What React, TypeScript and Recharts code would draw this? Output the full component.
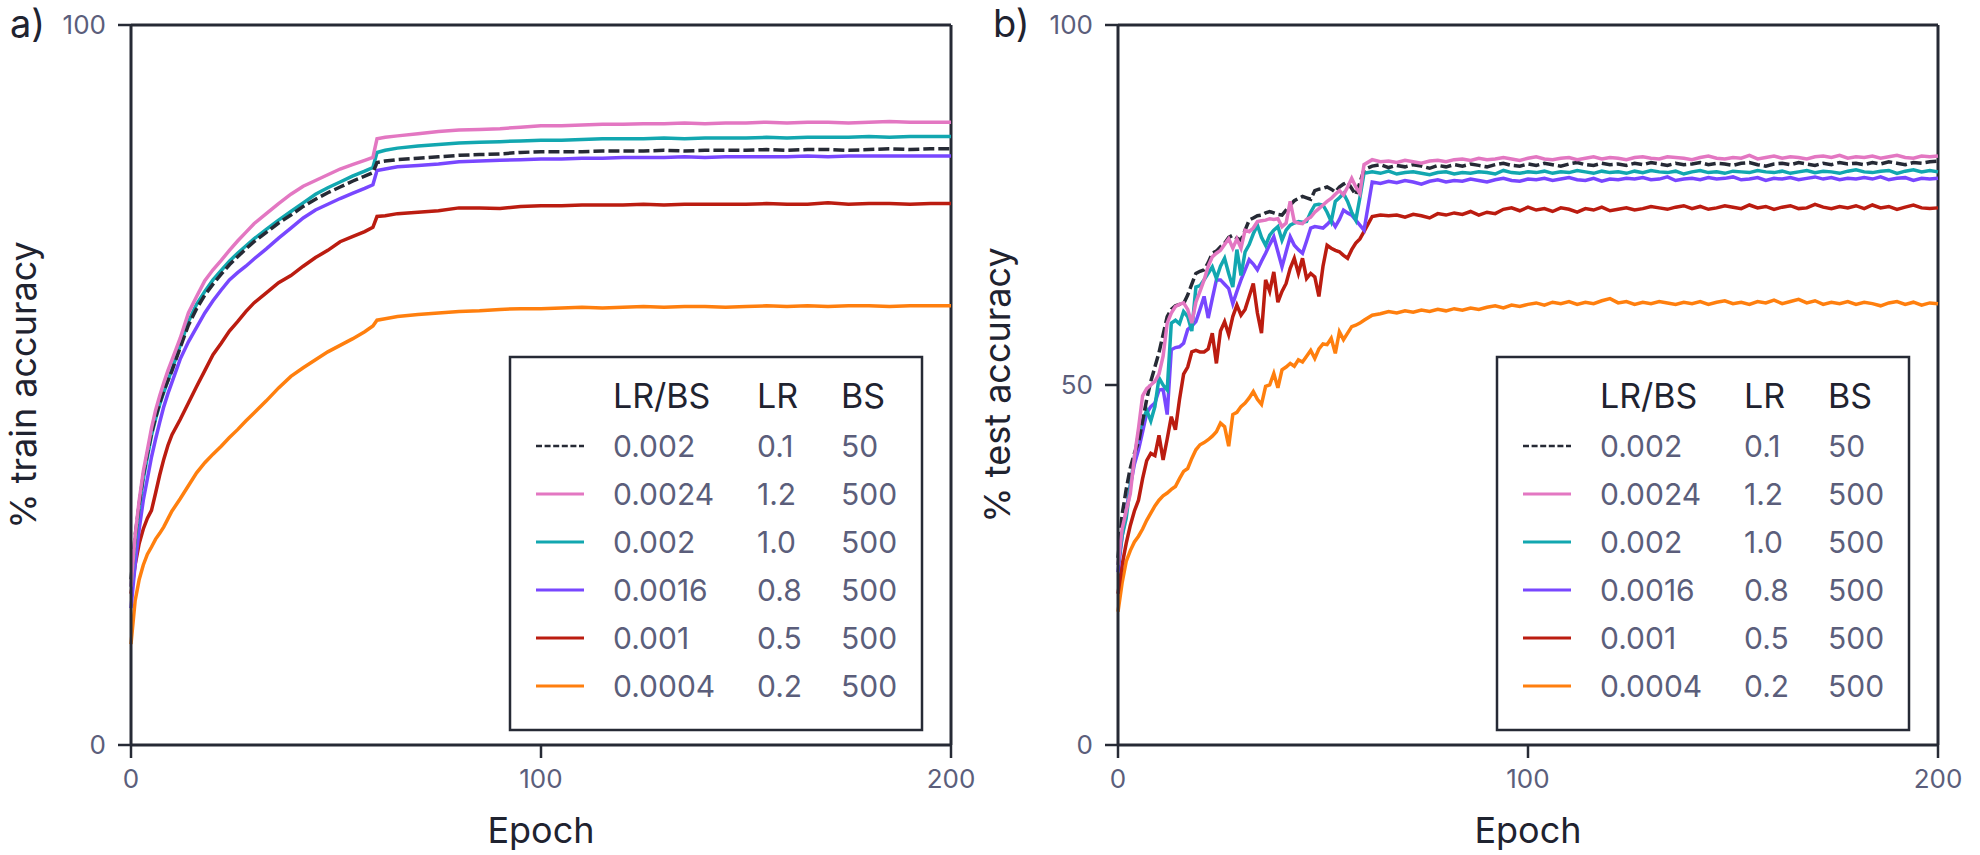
import React from 'react';
import { LineChart, Line, XAxis, YAxis, ReferenceLine } from 'recharts';

const AXIS = '#262a35';
const TICK_COLOR = '#5b5e7b';
const TITLE_COLOR = '#1f2330';
const FONT = 'Inter, "Noto Sans", sans-serif';

// legend table
const lrbsLabels = ['0.002', '0.0024', '0.002', '0.0016', '0.001', '0.0004'];
const lrLabels = ['0.1', '1.2', '1.0', '0.8', '0.5', '0.2'];
const bsLabels = ['50', '500', '500', '500', '500', '500'];
const seriesColors = ['#262a35', '#e377c2', '#12a7b0', '#7847ff', '#bb1c10', '#ff7f0e'];
const seriesDashed = [true, false, false, false, false, false];
const drawOrder = [5, 4, 3, 2, 0, 1];

const xTicks = [0, 100, 200];
const trainYTicks = [0, 100];
const testYTicks = [0, 50, 100];

// ---------- panel a) train accuracy ----------
const trainEpochs = [
  0, 1, 2, 3, 4, 5, 6, 7, 8, 9, 10,
  12, 14, 16, 18, 20, 22, 24, 26, 28, 30,
  33, 36, 39, 42, 45, 48, 51, 54, 57,
  59, 60, 62, 65,
  70, 75, 80, 85, 90, 95, 100, 105, 110, 115, 120, 125, 130, 135, 140, 145, 150, 155, 160, 165, 170, 175, 180, 185, 190, 195, 200,
];
const trainBlack = [
  23, 29, 33.5, 37.5, 40.5, 43.3, 45.5, 47.5, 49.2, 50.6, 52,
  55.2, 58.3, 60.6, 62.5, 64, 65.4, 66.7, 67.8, 68.9, 69.9,
  71.2, 72.5, 73.6, 74.8, 75.8, 76.7, 77.5, 78.3, 79,
  79.5, 80.9, 81.1, 81.3,
  81.5, 81.7, 81.9, 82, 82.1, 82.3, 82.4, 82.4, 82.4, 82.5, 82.5, 82.5, 82.6, 82.5, 82.6, 82.6, 82.6, 82.7, 82.6, 82.7, 82.7, 82.6, 82.7, 82.8, 82.7, 82.8, 82.8,
];
const trainPink = [
  22, 29, 34, 38, 41, 44, 46.5, 48.5, 50.3, 52, 53.5,
  56.5, 60, 62.3, 64.5, 66, 67.3, 68.7, 70, 71.2, 72.4,
  73.8, 75.2, 76.5, 77.6, 78.4, 79.2, 80, 80.6, 81.2,
  81.6, 84.2, 84.4, 84.6,
  84.9, 85.2, 85.4, 85.5, 85.6, 85.8, 86.0, 86.0, 86.1, 86.2, 86.2, 86.3, 86.3, 86.4, 86.3, 86.4, 86.4, 86.5, 86.4, 86.5, 86.5, 86.4, 86.5, 86.6, 86.5, 86.5, 86.5,
];
const trainTeal = [
  22, 28, 33, 37, 40, 43, 45.3, 47.3, 49, 50.6, 52.2,
  55.5, 58.8, 61.2, 63, 64.6, 65.9, 67.2, 68.3, 69.3, 70.3,
  71.6, 72.9, 74.1, 75.3, 76.5, 77.4, 78.2, 79, 79.7,
  80.2, 82.3, 82.6, 82.9,
  83.2, 83.4, 83.6, 83.7, 83.8, 83.9, 84.0, 84.0, 84.1, 84.2, 84.2, 84.2, 84.3, 84.2, 84.3, 84.3, 84.3, 84.4, 84.3, 84.4, 84.4, 84.4, 84.5, 84.4, 84.5, 84.5, 84.5,
];
const trainPurple = [
  19, 25, 30, 34, 37, 40, 42.5, 44.8, 47, 48.8, 50.4,
  53.6, 56, 58, 60, 61.7, 63.2, 64.6, 65.6, 66.5, 67.5,
  68.9, 70.4, 71.8, 73.2, 74.3, 75.1, 75.9, 76.6, 77.3,
  77.8, 79.8, 80, 80.3,
  80.5, 80.7, 81, 81.1, 81.2, 81.3, 81.4, 81.4, 81.5, 81.5, 81.6, 81.6, 81.6, 81.7, 81.6, 81.7, 81.7, 81.7, 81.7, 81.8, 81.7, 81.8, 81.8, 81.8, 81.8, 81.8, 81.8,
];
const trainRed = [
  21, 25, 28, 30, 31.5, 32.6, 35, 37.5, 39.7, 41.6, 43.1,
  45.2, 47.5, 49.8, 52, 54.2, 55.8, 57.5, 58.8, 60.2, 61.4,
  62.8, 64.2, 65.2, 66.5, 67.7, 68.7, 69.9, 70.6, 71.3,
  71.9, 73.4, 73.5, 73.8,
  74, 74.2, 74.6, 74.6, 74.5, 74.8, 74.9, 74.9, 75, 75, 75, 75.1, 75, 75.1, 75.1, 75.1, 75.1, 75.2, 75.1, 75.1, 75.3, 75.1, 75.2, 75.2, 75.1, 75.2, 75.2,
];
const trainOrange = [
  14, 20, 23, 25, 26.5, 27.5, 28.6, 29.4, 30.3, 31.4, 32.5,
  34.2, 36, 37.8, 39.2, 40.4, 41.5, 42.7, 43.8, 45, 46.1,
  47.8, 49.6, 51.2, 52.4, 53.5, 54.6, 55.5, 56.4, 57.4,
  58.2, 59, 59.2, 59.5,
  59.8, 60, 60.2, 60.3, 60.5, 60.6, 60.6, 60.7, 60.8, 60.7, 60.8, 60.9, 60.8, 60.9, 60.9, 60.8, 60.9, 61, 60.9, 61, 60.9, 61, 61, 60.9, 61, 61, 61,
];

// ---------- panel b) test accuracy ----------
const testEpochs = [
  0, 1, 2, 3, 4, 5, 6, 7, 8, 9,
  10, 11, 12, 13, 14, 15, 16, 17, 18, 19,
  20, 21, 22, 23, 24, 25, 26, 27, 28, 29,
  30, 31, 32, 33, 34, 35, 36, 37, 38, 39,
  40, 41, 42, 43, 44, 45, 46, 47, 48, 49,
  50, 51, 52, 53, 54, 55, 56, 57, 58, 59,
  60,
  62, 64, 66, 68, 70, 72, 74, 76, 78, 80,
  82, 84, 86, 88, 90, 92, 94, 96, 98, 100,
  102, 104, 106, 108, 110, 112, 114, 116, 118, 120,
  122, 124, 126, 128, 130, 132, 134, 136, 138, 140,
  142, 144, 146, 148, 150, 152, 154, 156, 158, 160,
  162, 164, 166, 168, 170, 172, 174, 176, 178, 180,
  182, 184, 186, 188, 190, 192, 194, 196, 198, 200,
];
const testBlack = [
  26, 32, 35.5, 38.5, 40.5, 42, 45, 48, 50.5, 52.5,
  54.5, 57, 59.5, 60.5, 61, 61.2, 61.3, 62.5, 64, 65.5,
  65.8, 66, 67, 68.3, 68.6, 69.2, 69.7, 70.5, 70.8, 70.4,
  70.1, 71.5, 72.9, 73.2, 73.5, 73.6, 73.9, 74.1, 73.9, 73.7,
  73.6, 74.3, 75, 75.6, 75.9, 76.2, 76, 75.8, 77, 77.2,
  77.3, 77.5, 77.2, 76.8, 77.5, 77.9, 78.2, 77.3, 76.4, 78.1,
  79.9,
  80.4, 80.6, 80.2, 80.5, 80.3, 80.6, 80.4, 80.1, 80.5, 80.3,
  80.6, 80.4, 80.7, 80.5, 80.3, 80.6, 80.8, 80.5, 80.4, 80.7,
  80.5, 80.8, 80.6, 80.4, 80.7, 80.9, 80.6, 80.5, 80.8, 80.6,
  80.7, 80.5, 80.8, 80.6, 80.9, 80.7, 80.5, 80.8, 80.6, 80.7,
  80.9, 80.6, 80.8, 80.7, 80.5, 80.8, 80.9, 80.6, 80.4, 80.7,
  80.8, 80.6, 80.9, 80.7, 80.5, 80.8, 80.6, 80.9, 80.7, 80.8,
  80.6, 80.9, 80.7, 81.0, 80.8, 80.6, 80.9, 80.8, 81.0, 81.1,
];
const testPink = [
  25, 30, 32.5, 34.9, 40, 44, 48.5, 49.5, 50, 50.5,
  51.5, 54, 58.6, 60, 60.9, 61.2, 61.4, 60.5, 58.6, 61.5,
  63, 64.6, 66.5, 67.8, 68.3, 68.7, 69.5, 70.3, 69, 70.3,
  69, 71.5, 71.3, 71.8, 72.7, 72.8, 72.9, 73.1, 73, 73.1,
  72, 72.5, 75.5, 72.7, 72.5, 72.4, 73, 73.3, 74, 74.5,
  75, 75.5, 75.9, 76.5, 77, 76.4, 77.5, 78.7, 77.5, 76.6,
  80.6,
  81.3, 81.0, 81.1, 80.9, 81.2, 81.0, 80.8, 81.1, 81.2, 81.0,
  81.3, 81.4, 81.2, 81.5, 81.3, 81.4, 81.6, 81.4, 81.2, 81.5,
  81.7, 81.4, 81.3, 81.5, 81.6, 81.3, 81.5, 81.7, 81.4, 81.6,
  81.5, 81.3, 81.6, 81.7, 81.5, 81.4, 81.7, 81.6, 81.5, 81.3,
  81.6, 81.8, 81.5, 81.4, 81.6, 81.5, 81.9, 81.4, 81.6, 81.8,
  81.5, 81.7, 81.6, 81.4, 81.7, 81.8, 81.6, 81.9, 81.5, 81.7,
  81.6, 81.8, 81.5, 81.7, 81.9, 81.6, 81.5, 81.8, 81.7, 81.8,
];
const testTeal = [
  25, 29, 31.5, 36, 40, 43.3, 45, 46.5, 45, 47,
  51, 50, 49.3, 58.6, 59, 58.5, 60.2, 59.5, 57.5, 63.6,
  63.8, 64.6, 65.5, 66.4, 64.8, 66.5, 67.6, 65.5, 63.6, 68.8,
  65.2, 68.5, 69.5, 71, 72.2, 70.5, 69.4, 70.8, 71.5, 72,
  70.1, 71.5, 72.2, 72.5, 72.7, 72.6, 72.7, 74, 75, 75.1,
  75, 74, 72.7, 75.5, 76, 76.6, 75.5, 74, 72.9, 76,
  79.4,
  79.6, 79.4, 79.7, 79.3, 79.5, 79.6, 79.4, 79.2, 79.5, 79.6,
  79.3, 79.5, 79.4, 79.6, 79.5, 79.3, 79.8, 79.5, 79.4, 79.6,
  79.5, 79.7, 79.4, 79.6, 79.5, 79.8, 79.6, 79.4, 79.7, 79.5,
  79.6, 79.4, 79.7, 79.5, 79.8, 79.6, 79.5, 79.7, 79.3, 79.6,
  79.8, 79.5, 79.6, 79.4, 79.7, 79.6, 79.5, 79.8, 79.6, 79.5,
  79.7, 79.4, 79.6, 79.8, 79.5, 79.7, 79.6, 79.4, 79.7, 79.9,
  79.6, 79.5, 79.7, 79.8, 79.4, 79.7, 79.9, 79.6, 79.8, 79.6,
];
const testPurple = [
  24, 29, 32.5, 36, 39, 41, 43.5, 46.1, 47, 47.5,
  49.3, 49.4, 45.9, 54.9, 55.2, 55.3, 55.8, 57.7, 58.2, 58.8,
  60.5, 62.3, 59.3, 62, 64.6, 64.6, 64, 63.4, 61.3, 63,
  64.6, 66, 67.4, 66.8, 66, 67.2, 68.3, 69.5, 70.6, 68.5,
  66.4, 68.5, 70.6, 69.4, 68.8, 68.3, 70, 71.8, 72, 71.9,
  71.8, 72.3, 72.9, 72, 73, 74.3, 73.9, 73.6, 72.9, 72.2,
  71.5,
  78.2, 78.0, 78.3, 78.1, 78.4, 78.2, 77.9, 78.3, 78.5, 78.2,
  78.4, 78.3, 78.6, 78.4, 78.2, 78.5, 78.7, 78.4, 78.3, 78.6,
  78.5, 78.7, 78.4, 78.6, 78.8, 78.5, 78.4, 78.7, 78.3, 78.6,
  78.5, 78.7, 78.6, 78.8, 78.5, 78.6, 78.9, 78.4, 78.6, 78.7,
  78.5, 78.8, 78.6, 78.7, 78.9, 78.5, 78.6, 78.8, 78.4, 78.7,
  78.6, 78.8, 78.5, 78.7, 78.9, 78.6, 78.8, 78.5, 78.7, 78.6,
  78.8, 78.6, 78.9, 78.5, 78.7, 78.8, 78.4, 78.7, 78.6, 78.7,
];
const testRed = [
  21, 25, 28, 30.5, 32.5, 34, 37, 39.5, 40.5, 40.2,
  43, 39.6, 42.5, 45.6, 43.8, 48, 51.5, 52.5, 54.6, 54.8,
  54.6, 54.6, 55, 57.2, 53, 57.5, 58.8, 57, 59.5, 61.1,
  59.7, 60.5, 62.3, 64.1, 60, 57.2, 64.6, 63, 65.7, 61.5,
  63, 64.1, 66.2, 67.6, 65.5, 67.6, 64.8, 65.5, 65, 62.3,
  66.5, 69.4, 69, 68.7, 68.5, 68, 67.6, 68.8, 69.7, 70.3,
  71.3,
  73.4, 73.6, 73.5, 73.6, 73.3, 73.7, 73.5, 73.2, 73.8, 73.6,
  73.9, 73.7, 74.1, 73.6, 74.0, 73.8, 74.4, 74.6, 74.2, 74.7,
  74.3, 74.5, 74.1, 74.6, 74.4, 74.0, 74.5, 74.3, 74.7, 74.2,
  74.4, 74.6, 74.3, 74.5, 74.8, 74.6, 74.4, 74.7, 74.9, 74.5,
  74.8, 74.4, 74.6, 74.9, 74.7, 74.5, 75.0, 74.6, 74.8, 74.4,
  74.7, 74.9, 74.5, 74.6, 75.1, 74.7, 74.5, 74.8, 74.6, 74.9,
  74.5, 75.0, 74.6, 74.8, 74.4, 74.7, 75.0, 74.6, 74.5, 74.6,
];
const testOrange = [
  18.5, 22.5, 25.5, 27, 28.2, 29, 30, 31.2, 32.2, 33.2,
  34, 34.6, 35, 35.5, 35.9, 37, 38, 38.4, 39.8, 41,
  41.7, 42, 42.4, 42.9, 43.5, 44.7, 44.2, 41.5, 45.9, 46.2,
  47, 47.5, 48.2, 49.1, 48, 47.3, 49.8, 50, 51.6, 49.6,
  52.1, 52.5, 53, 52.6, 53.5, 53.2, 54, 54.8, 53.7, 55,
  55.7, 55.6, 56.5, 54.4, 57.4, 56.3, 57.2, 58.1, 58.3, 58.6,
  59,
  59.7, 59.9, 60.2, 60.0, 60.3, 60.1, 60.4, 60.2, 60.5, 60.3,
  60.6, 60.4, 60.7, 60.5, 60.8, 61.0, 60.7, 61.1, 60.9, 61.2,
  61.4, 61.1, 61.5, 61.3, 61.6, 61.2, 61.5, 61.3, 61.7, 62.0,
  61.4, 61.6, 61.2, 61.5, 61.3, 61.6, 61.4, 61.2, 61.5, 61.3,
  61.6, 61.2, 61.5, 61.7, 61.3, 61.5, 61.2, 61.6, 61.4, 61.8,
  61.3, 61.6, 61.9, 61.4, 61.7, 61.2, 61.5, 61.3, 61.6, 61.2,
  61.5, 61.3, 61.0, 61.4, 61.6, 61.2, 61.5, 61.1, 61.4, 61.3,
];

const trainSeries = [trainBlack, trainPink, trainTeal, trainPurple, trainRed, trainOrange];
const testSeries = [testBlack, testPink, testTeal, testPurple, testRed, testOrange];

const buildRows = (epochs: number[], series: number[][]) =>
  epochs.map((epoch, i) => {
    const row: Record<string, number> = { epoch };
    series.forEach((s, k) => {
      row['s' + k] = s[i];
    });
    return row;
  });

const trainRows = buildRows(trainEpochs, trainSeries);
const testRows = buildRows(testEpochs, testSeries);

const CHART_W = 990;
const CHART_H = 855;
const PLOT_LEFT = 131;
const PLOT_TOP = 25;
const PLOT_RIGHT = 951;
const PLOT_BOTTOM = 745;

function Panel({ left, rows, yTicks }: { left: number; rows: any[]; yTicks: number[] }) {
  return (
    <div style={{ position: 'absolute', left, top: 0, width: CHART_W, height: CHART_H }}>
      <LineChart
        width={CHART_W}
        height={CHART_H}
        data={rows}
        margin={{ top: PLOT_TOP, right: CHART_W - PLOT_RIGHT, bottom: CHART_H - PLOT_BOTTOM - 60, left: PLOT_LEFT - 60 }}
      >
        <XAxis
          dataKey="epoch"
          type="number"
          domain={[0, 200]}
          ticks={xTicks}
          interval={0}
          height={60}
          tickSize={13}
          tickMargin={12}
          axisLine={{ stroke: AXIS, strokeWidth: 3 }}
          tickLine={{ stroke: AXIS, strokeWidth: 2.5 }}
          tick={{ fill: TICK_COLOR, fontSize: 26, fontFamily: FONT }}
        />
        <YAxis
          type="number"
          domain={[0, 100]}
          ticks={yTicks}
          interval={0}
          width={60}
          tickSize={13}
          tickMargin={12}
          axisLine={{ stroke: AXIS, strokeWidth: 3 }}
          tickLine={{ stroke: AXIS, strokeWidth: 2.5 }}
          tick={{ fill: TICK_COLOR, fontSize: 26, fontFamily: FONT }}
        />
        <ReferenceLine y={100} stroke={AXIS} strokeWidth={3} />
        <ReferenceLine x={200} stroke={AXIS} strokeWidth={3} />
        {drawOrder.map((k) => (
          <Line
            key={k}
            type="linear"
            dataKey={'s' + k}
            stroke={seriesColors[k]}
            strokeWidth={3.5}
            strokeDasharray={seriesDashed[k] ? '11 4' : undefined}
            dot={false}
            activeDot={false}
            isAnimationActive={false}
          />
        ))}
      </LineChart>
    </div>
  );
}

function LegendTable({ left }: { left: number }) {
  const boxX = left + 510;
  const boxY = 357;
  const colA = left + 613;
  const colB = left + 757;
  const colC = left + 841;
  const lineX1 = left + 536;
  const lineX2 = left + 584;
  return (
    <g>
      <rect x={boxX} y={boxY} width={412} height={373} fill="#ffffff" stroke={AXIS} strokeWidth={2.5} />
      <text x={colA} y={408} fontSize={34} fill={TITLE_COLOR} fontFamily={FONT}>LR/BS</text>
      <text x={colB} y={408} fontSize={34} fill={TITLE_COLOR} fontFamily={FONT}>LR</text>
      <text x={colC} y={408} fontSize={34} fill={TITLE_COLOR} fontFamily={FONT}>BS</text>
      {lrbsLabels.map((lab, i) => {
        const base = 457 + i * 48;
        return (
          <g key={i}>
            <line
              x1={lineX1}
              x2={lineX2}
              y1={base - 11}
              y2={base - 11}
              stroke={seriesColors[i]}
              strokeWidth={seriesDashed[i] ? 2.4 : 3}
              strokeDasharray={seriesDashed[i] ? '6 2.6' : undefined}
            />
            <text x={colA} y={base} fontSize={30} fill={TICK_COLOR} fontFamily={FONT}>{lab}</text>
            <text x={colB} y={base} fontSize={30} fill={TICK_COLOR} fontFamily={FONT}>{lrLabels[i]}</text>
            <text x={colC} y={base} fontSize={30} fill={TICK_COLOR} fontFamily={FONT}>{bsLabels[i]}</text>
          </g>
        );
      })}
    </g>
  );
}

const RIGHT_OFFSET = 987;

export default function App() {
  return (
    <div style={{ position: 'absolute', left: 0, top: 0, width: 1980, height: 855, background: '#ffffff', overflow: 'hidden' }}>
      <Panel left={0} rows={trainRows} yTicks={trainYTicks} />
      <Panel left={RIGHT_OFFSET} rows={testRows} yTicks={testYTicks} />
      <svg
        width={1980}
        height={855}
        style={{ position: 'absolute', left: 0, top: 0, pointerEvents: 'none' }}
      >
        <text x={10} y={37} fontSize={38} fill={TITLE_COLOR} fontFamily={FONT}>a)</text>
        <text x={993} y={37} fontSize={38} fill={TITLE_COLOR} fontFamily={FONT}>b)</text>
        <text
          x={0}
          y={0}
          fontSize={36}
          fill={TITLE_COLOR}
          fontFamily={FONT}
          textAnchor="middle"
          transform={`translate(36, 385) rotate(-90)`}
        >
          % train accuracy
        </text>
        <text
          x={0}
          y={0}
          fontSize={36}
          fill={TITLE_COLOR}
          fontFamily={FONT}
          textAnchor="middle"
          transform={`translate(1010, 385) rotate(-90)`}
        >
          % test accuracy
        </text>
        <text x={(PLOT_LEFT + PLOT_RIGHT) / 2} y={843} fontSize={36} fill={TITLE_COLOR} fontFamily={FONT} textAnchor="middle">Epoch</text>
        <text x={RIGHT_OFFSET + (PLOT_LEFT + PLOT_RIGHT) / 2} y={843} fontSize={36} fill={TITLE_COLOR} fontFamily={FONT} textAnchor="middle">Epoch</text>
        <LegendTable left={0} />
        <LegendTable left={RIGHT_OFFSET} />
      </svg>
    </div>
  );
}
